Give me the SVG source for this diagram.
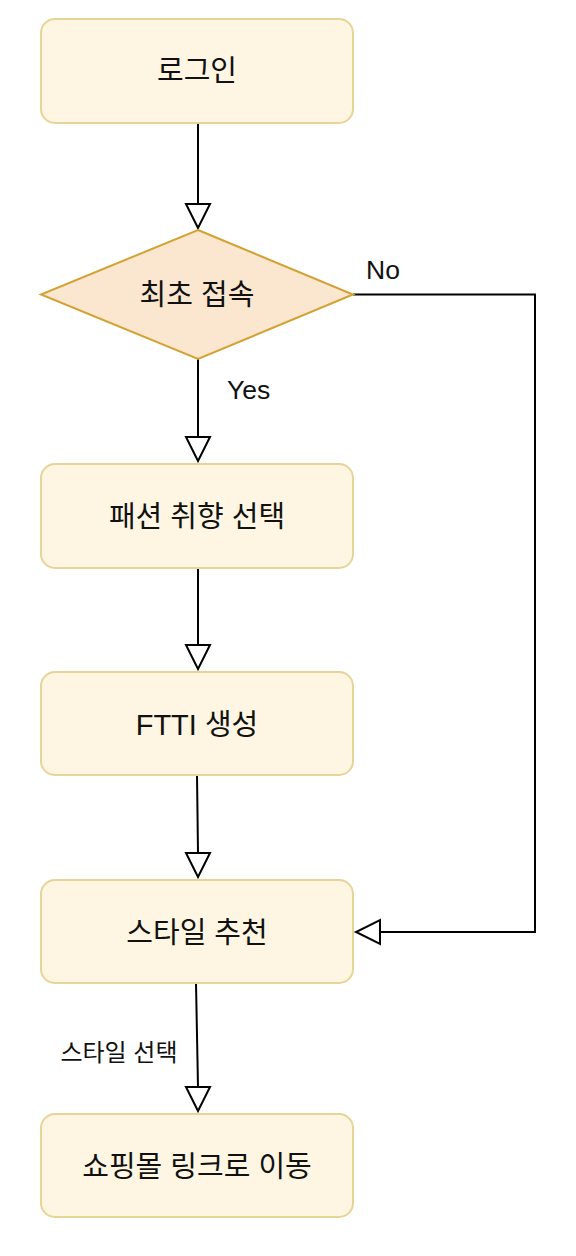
<svg xmlns="http://www.w3.org/2000/svg" width="576" height="1256" viewBox="0 0 576 1256">
<style>
.box{fill:#fef6e2;stroke:#e8d497;stroke-width:2}
.dia{fill:#fbe6d0;stroke:#d4a233;stroke-width:2}
.t{font-family:"Liberation Sans","Noto Sans CJK KR",sans-serif;font-size:29px;fill:#111;text-anchor:middle}
.lbl{font-family:"Liberation Sans","Noto Sans CJK KR",sans-serif;font-size:26.5px;fill:#111}
.sl{font-family:"Liberation Sans","Noto Sans CJK KR",sans-serif;font-size:24px;fill:#111;text-anchor:middle}
.e{fill:none;stroke:#000;stroke-width:2}
.ah{fill:#fff;stroke:#000;stroke-width:2;stroke-linejoin:miter}
</style>
<rect width="576" height="1256" fill="#fff"/>
<g id="connectors">
  <line class="e" x1="198" y1="123" x2="198" y2="204"/>
  <polygon class="ah" points="186,204 210,204 198,228"/>
  <line class="e" x1="198" y1="359" x2="198" y2="437"/>
  <polygon class="ah" points="186,437 210,437 198,461"/>
  <text class="lbl" x="227" y="399">Yes</text>
  <polyline class="e" points="353,294.5 535,294.5 535,932 380,932"/>
  <polygon class="ah" points="380,920 380,944 356,932"/>
  <text class="lbl" x="366" y="279">No</text>
  <line class="e" x1="198" y1="568" x2="198" y2="645"/>
  <polygon class="ah" points="186,645 210,645 198,669"/>
  <line class="e" x1="197" y1="775" x2="198" y2="853"/>
  <polygon class="ah" points="186,853 210,853 198,877"/>
  <line class="e" x1="196" y1="983" x2="198" y2="1087"/>
  <polygon class="ah" points="186,1087 210,1087 198,1111"/>
  <text class="sl" x="119" y="1061">스타일 선택</text>
</g>
<g id="n1"><rect class="box" x="41" y="19" width="312" height="104" rx="14"/><text class="t" x="197" y="81">로그인</text></g>
<g id="n2"><polygon class="dia" points="198,230 353,294.5 198,359 41,294.5"/><text class="t" x="197" y="305">최초 접속</text></g>
<g id="n3"><rect class="box" x="41" y="464" width="312" height="104" rx="14"/><text class="t" x="197" y="527">패션 취향 선택</text></g>
<g id="n4"><rect class="box" x="41" y="672" width="312" height="103" rx="14"/><text class="t" x="197" y="735">FTTI 생성</text></g>
<g id="n5"><rect class="box" x="41" y="880" width="312" height="103" rx="14"/><text class="t" x="197" y="943">스타일 추천</text></g>
<g id="n6"><rect class="box" x="41" y="1114" width="312" height="103" rx="14"/><text class="t" x="197" y="1177">쇼핑몰 링크로 이동</text></g>
</svg>
